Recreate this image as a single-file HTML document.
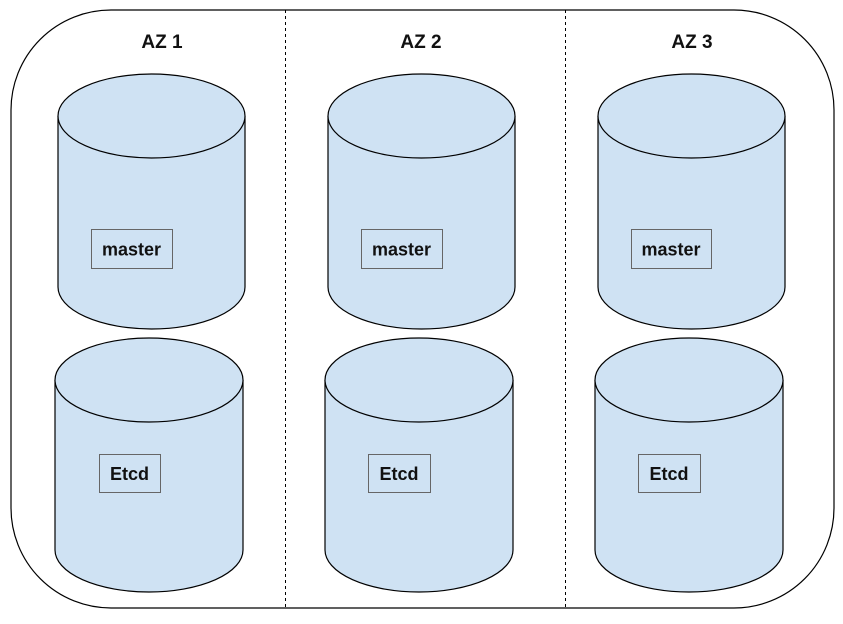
<!DOCTYPE html>
<html><head><meta charset="utf-8"><style>
html,body{margin:0;padding:0;background:#fff;width:843px;height:624px;overflow:hidden}
text{font-family:"Liberation Sans",Arial,sans-serif;font-weight:bold}
</style></head><body>
<svg width="843" height="624" viewBox="0 0 843 624" xmlns="http://www.w3.org/2000/svg">
<rect x="11" y="10" width="823" height="598" rx="100" ry="100" fill="#fff" stroke="#000" stroke-width="1.2"/>
<line x1="285.5" y1="10" x2="285.5" y2="608" stroke="#000" stroke-dasharray="3,3"/>
<line x1="565.5" y1="10" x2="565.5" y2="608" stroke="#000" stroke-dasharray="3,3"/>
<g id="g"></g>
</svg>
<script>
const titles=['AZ 1','AZ 2','AZ 3'];
const titleX=[162,421,692];
const masterX=[58,328,598];
const etcdX=[55,325,595];
const masterBox=[[91,81],[361,81],[631,80]];
const etcdBox=[[99,61],[368,62],[638,62]];
const NS='http://www.w3.org/2000/svg';
const g=document.getElementById('g');
function mk(t,a){const e=document.createElementNS(NS,t);for(const k in a)e.setAttribute(k,a[k]);g.appendChild(e);return e;}
function cyl(x,w,top,bot,ry,name){
  const cx=x+w/2,rx=w/2;
  const body=mk('path',{d:`M${x},${top} L${x},${bot} A${rx},${ry} 0 0 0 ${x+w},${bot} L${x+w},${top}`,fill:'#cfe2f3',stroke:'#000','stroke-width':1.2});
  
  
  const topE=mk('ellipse',{cx:cx,cy:top,rx:rx,ry:ry,fill:'#cfe2f3',stroke:'#000','stroke-width':1.2});
  
  
}
function box(x,w,y,h,label,name){
  const r=mk('rect',{x:x+0.5,y:y+0.5,width:w,height:h,fill:'none',stroke:'#666','stroke-width':1});
  
  
  const t=mk('text',{x:x+w/2,y:y+h/2+7,'text-anchor':'middle','font-size':18,fill:'#111'});
  t.textContent=label;
  
  
}
for(let i=0;i<3;i++){
  const t=mk('text',{x:titleX[i],y:48,'text-anchor':'middle','font-size':19,fill:'#111'});
  t.textContent=titles[i];
  
  
  cyl(masterX[i],187,116,287,42,'master-cylinder-'+(i+1));
  box(masterBox[i][0],masterBox[i][1],229,39,'master','master-'+(i+1));
  cyl(etcdX[i],188,380,550,42,'etcd-cylinder-'+(i+1));
  box(etcdBox[i][0],etcdBox[i][1],454,38,'Etcd','etcd-'+(i+1));
}
</script>
</body></html>
